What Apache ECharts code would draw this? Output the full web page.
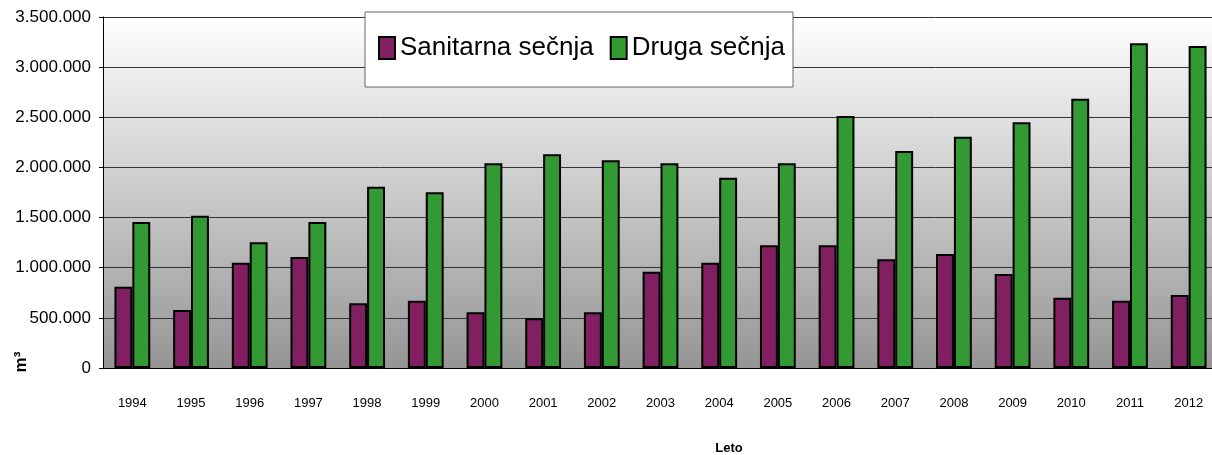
<!DOCTYPE html>
<html>
<head>
<meta charset="utf-8">
<script src="https://cdn.jsdelivr.net/npm/echarts@6/dist/echarts.min.js"></script>
<style>
  html, body { margin: 0; padding: 0; background: #fff; }
  #chart { width: 1212px; height: 455px; }
</style>
</head>
<body>
<div id="chart"></div>
<script>
// godine
const years = ['1994', '1995', '1996', '1997', '1998', '1999', '2000', '2001', '2002', '2003',
  '2004', '2005', '2006', '2007', '2008', '2009', '2010', '2011', '2012'];
// sanitarna sečnja (m3)
const sanitarna = [811000, 578000, 1050000, 1107000, 645000, 671000, 555000, 495000, 555000, 960000,
  1050000, 1223000, 1223000, 1084000, 1137000, 937000, 701000, 671000, 728000];
// druga sečnja (m3)
const druga = [1456000, 1519000, 1253000, 1456000, 1808000, 1752000, 2041000, 2131000, 2071000, 2041000,
  1898000, 2041000, 2513000, 2164000, 2307000, 2450000, 2686000, 3238000, 3211000];
const seriesNames = ['Sanitarna sečnja', 'Druga sečnja'];
const yMax = 3500000;
const yStep = 500000;

const chart = echarts.init(document.getElementById('chart'));
const font = 'Liberation Sans, Arial, sans-serif';

function fmt(v) {
  return String(v).replace(/\B(?=(\d{3})+(?!\d))/g, '.');
}

chart.setOption({
  animation: false,
  textStyle: { fontFamily: font },
  grid: {
    left: 103,
    top: 17,
    width: 1115,
    height: 351,
    outerBoundsMode: 'none',
    containLabel: false,
    show: true,
    borderWidth: 0,
    backgroundColor: new echarts.graphic.LinearGradient(0, 0, 0, 1, [
      { offset: 0, color: '#ffffff' },
      { offset: 1, color: '#959595' }
    ])
  },
  graphic: [
    {
      type: 'rect',
      z: 10,
      shape: { x: 365, y: 12, width: 428, height: 75 },
      style: { fill: '#fff', stroke: '#666', lineWidth: 1 }
    },
    {
      // naziv y ose
      type: 'text',
      x: 21,
      y: 362,
      rotation: Math.PI / 2,
      style: {
        text: 'm³',
        font: 'bold 17px Liberation Sans, Arial, sans-serif',
        fill: '#000',
        align: 'center',
        verticalAlign: 'middle'
      }
    },
    {
      // naziv x ose
      type: 'text',
      x: 729,
      y: 448,
      style: {
        text: 'Leto',
        font: 'bold 13px Liberation Sans, Arial, sans-serif',
        fill: '#000',
        align: 'center',
        verticalAlign: 'middle'
      }
    }
  ],
  legend: {
    z: 20,
    left: 373,
    top: 30,
    itemWidth: 16,
    itemHeight: 22,
    itemGap: 16,
    icon: 'rect',
    data: seriesNames,
    textStyle: { fontFamily: font, fontSize: 26, color: '#000' }
  },
  xAxis: {
    type: 'category',
    data: years,
    axisLine: { lineStyle: { color: '#000', width: 1 } },
    axisTick: { length: 6, lineStyle: { color: '#000' } },
    axisLabel: { margin: 29, fontSize: 13, color: '#000', interval: 0 }
  },
  yAxis: {
    type: 'value',
    min: 0,
    max: yMax,
    interval: yStep,
    axisLine: { show: true, lineStyle: { color: '#000', width: 1 } },
    axisTick: { show: true, length: 4, lineStyle: { color: '#000' } },
    axisLabel: { margin: 12, fontSize: 17, color: '#000', formatter: fmt },
    splitLine: { lineStyle: { color: '#333', width: 1 } }
  },
  series: [
    {
      name: seriesNames[0],
      type: 'bar',
      data: sanitarna,
      barGap: '0%',
      barCategoryGap: '39%',
      itemStyle: { color: '#802060', borderColor: '#000', borderWidth: 2 }
    },
    {
      name: seriesNames[1],
      type: 'bar',
      data: druga,
      itemStyle: { color: '#339933', borderColor: '#000', borderWidth: 2 }
    }
  ]
});
</script>
</body>
</html>
